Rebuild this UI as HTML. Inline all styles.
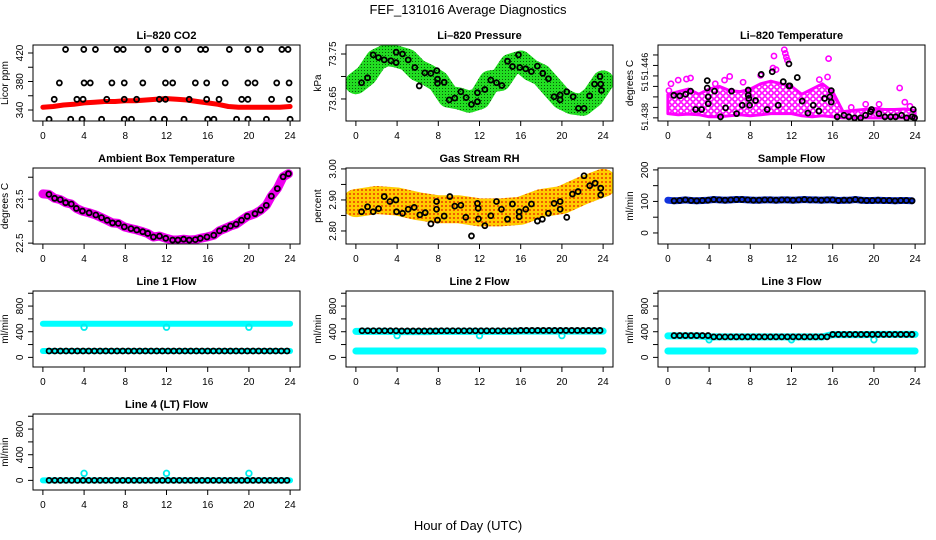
<!DOCTYPE html>
<html><head><meta charset="utf-8"><style>
html,body{margin:0;padding:0;background:#fff;}
svg{display:block;font-family:"Liberation Sans",sans-serif;}
</style></head><body>
<svg id="chart" width="936" height="540" viewBox="0 0 936 540" xmlns="http://www.w3.org/2000/svg">
<defs>
<pattern id="greenpat" width="3" height="3" patternUnits="userSpaceOnUse"><rect width="3" height="3" fill="#22dd22"/><rect x="1" y="1" width="1" height="1" fill="#0a5a0a"/></pattern>
<pattern id="rhpat" width="4" height="4" patternUnits="userSpaceOnUse"><rect width="4" height="4" fill="#ffcc00"/><rect x="1" y="1" width="2" height="2" fill="#f06000"/></pattern>
<pattern id="magpat" width="6" height="6" patternUnits="userSpaceOnUse"><rect width="6" height="6" fill="#fff"/><circle cx="3" cy="3" r="2.2" fill="none" stroke="#ff00ff" stroke-width="1.6"/></pattern>
</defs>
<text x="468" y="14" text-anchor="middle" font-size="13">FEF_131016  Average Diagnostics</text>
<text x="468" y="530" text-anchor="middle" font-size="13">Hour of Day (UTC)</text>
</svg>
<script>
// ---------- data ----------
const co2Band = [344,345,347,348,350,351,352,352,353,353,354,355,356,355,354,352,350,348,345,344,344,344,344,344,345];
const co2TopH = [2.2,3.97,5.1,7.2,7.8,10.2,11.9,13.1,15.3,15.8,18.1,19.9,21.1,23.2,23.8];
const co2MidH = [1.6,4,4.6,6.7,7.9,9.7,11.9,12.6,14.8,15.9,17.7,19.9,20.6,22.7,23.9];
const co2LowH = [1.1,3.3,3.9,6.2,7.9,9.1,11.3,11.9,14.2,15.9,17.1,19.3,19.9,22.2,23.9];
const co2BotH = [0.6,2.7,3.8,5.7,7.9,8.6,10.7,11.8,13.7,16,16.6,18.8,19.9,21.7,24];
const co2Levels = [425,378,355,327];

const presBand = [73.685,73.703,73.737,73.748,73.744,73.737,73.714,73.703,73.689,73.655,73.651,73.644,73.651,73.689,73.692,73.726,73.733,73.714,73.703,73.677,73.651,73.640,73.637,73.655,73.689];
const presH = [0.55,1.13,1.68,2.2,2.75,3.4,3.91,3.91,4.53,5.08,5.72,6.15,6.69,7.28,7.86,7.92,7.92,8.57,9.06,9.6,10.19,10.7,11.22,11.8,11.8,12.52,13.1,13.65,14.17,14.72,15.2,15.78,15.91,16.49,17.04,17.62,18.14,18.69,19.24,19.83,19.83,20.47,21.09,21.6,22.15,22.69,23.17,23.7,23.77,23.84];
const presV = [73.686,73.697,73.748,73.742,73.737,73.735,73.754,73.731,73.75,73.737,73.72,73.679,73.708,73.707,73.713,73.694,73.685,73.687,73.648,73.652,73.666,73.653,73.638,73.664,73.644,73.671,73.692,73.686,73.68,73.734,73.722,73.748,73.72,73.717,73.711,73.723,73.707,73.695,73.655,73.659,73.648,73.666,73.655,73.629,73.629,73.657,73.683,73.7,73.683,73.669];

const tempLow = [51.4368,51.4366,51.4367,51.4366,51.4362,51.4362,51.4364,51.4366,51.4364,51.4366,51.4368,51.4368,51.4368,51.4364,51.4362,51.4364,51.4362,51.4360,51.4360,51.4360,51.4360,51.4360,51.4360,51.4360,51.4360];
const tempHigh = [51.4405,51.4410,51.4415,51.4405,51.4415,51.4420,51.4412,51.4410,51.4415,51.4425,51.4430,51.4425,51.4420,51.4405,51.4415,51.4425,51.4410,51.4372,51.4374,51.4376,51.4378,51.4376,51.4376,51.4377,51.4374];
const tempOutH = [0.1,0.3,1.0,1.8,2.2,4.6,5.5,6.0,7.3,9.0,10.2,10.3,10.5,11.3,11.4,11.5,11.6,14.7,15.6,15.5,17.8,19.2,20.5,22.5,23.0,23.5];
const tempOutV = [51.4412,51.4425,51.4432,51.4434,51.4436,51.4425,51.4432,51.4439,51.4428,51.4441,51.4455,51.4478,51.4452,51.4490,51.4483,51.4476,51.4470,51.4433,51.4473,51.4438,51.4380,51.4386,51.4386,51.4417,51.4390,51.4382];
const tempH = [0.58,1.17,1.72,2.2,2.69,3.27,3.82,3.82,3.92,3.92,4.53,5.11,5.6,6.18,6.67,7.22,7.8,7.8,7.86,7.93,8.51,9.06,9.64,10.13,10.71,11.2,11.75,11.75,11.84,12.56,13.04,13.59,14.11,14.66,15.21,15.73,15.86,15.86,16.44,17.09,17.57,18.12,18.71,19.19,19.68,19.77,20.49,21.07,21.62,22.1,22.69,23.17,23.72,23.82,23.95];
const tempV = [51.4403,51.4402,51.4405,51.4411,51.4376,51.4376,51.4431,51.4417,51.4400,51.4387,51.4411,51.4362,51.4379,51.4411,51.4368,51.4384,51.4413,51.4403,51.4397,51.4384,51.4393,51.4443,51.4376,51.4448,51.4384,51.4429,51.4463,51.4421,51.4421,51.4437,51.4392,51.4369,51.4384,51.4373,51.4397,51.4400,51.4412,51.4390,51.4362,51.4365,51.4362,51.4360,51.4360,51.4365,51.4372,51.4376,51.4368,51.4362,51.4362,51.4362,51.4365,51.4360,51.4362,51.4376,51.4360];

const ambH = [0.59,1.14,1.69,2.21,2.76,3.25,3.84,4.49,5.14,5.69,6.24,6.76,7.32,7.9,8.55,9.11,9.69,10.18,10.73,11.32,11.93,12.59,13.11,13.66,14.21,14.8,15.28,15.93,16.59,17.14,17.66,18.21,18.76,19.28,19.84,20.59,21.14,21.69,22.18,22.76,23.32,23.84];
const ambV = [23.61,23.52,23.49,23.42,23.39,23.29,23.23,23.19,23.14,23.08,23.02,22.96,22.95,22.87,22.83,22.80,22.76,22.72,22.64,22.66,22.61,22.57,22.57,22.59,22.57,22.58,22.61,22.64,22.68,22.78,22.83,22.89,22.93,23.02,23.11,23.17,23.25,23.36,23.57,23.74,24.01,24.08];

const rhBandH = [0,2,4,6,8,10,12,14,16,18,20,22,24];
const rhBand = [2.89,2.90,2.895,2.88,2.87,2.87,2.86,2.86,2.865,2.89,2.90,2.93,2.955];
const rhH = [0.55,1.13,1.68,2.2,2.75,3.3,3.88,3.95,4.53,5.08,5.66,6.21,6.73,7.28,7.83,7.83,7.92,8.57,9.12,9.6,10.19,10.67,11.22,11.8,11.87,11.9,12.52,13.1,13.65,14.13,14.72,15.2,15.85,15.85,16.49,17.04,17.62,18.1,18.69,19.24,19.83,19.83,20.47,21.02,21.57,22.15,22.7,23.22,23.77,23.77];
const rhV = [2.862,2.878,2.862,2.872,2.911,2.895,2.9,2.862,2.857,2.87,2.876,2.852,2.859,2.823,2.895,2.87,2.835,2.848,2.911,2.88,2.883,2.844,2.784,2.889,2.873,2.839,2.817,2.849,2.895,2.87,2.838,2.887,2.862,2.846,2.87,2.887,2.832,2.838,2.857,2.889,2.895,2.87,2.844,2.919,2.927,2.978,2.946,2.954,2.938,2.916];

const flowH = [0.6,1.15,1.7,2.25,2.8,3.35,3.9,4.45,5.0,5.55,6.1,6.65,7.2,7.75,8.3,8.85,9.4,9.95,10.5,11.05,11.6,12.15,12.7,13.25,13.8,14.35,14.9,15.45,16.0,16.55,17.1,17.65,18.2,18.75,19.3,19.85,20.4,20.95,21.5,22.05,22.6,23.15,23.7];
const sampleV = [102,103,105,103,102,103,104,106,105,104,105,106,106,105,104,104,105,105,104,105,105,104,105,106,105,105,104,105,105,103,104,104,106,104,103,103,104,103,103,102,103,103,102];
const line1Black = [100,100,100,100,100,100,100,100,100,100,100,100,100,100,100,100,100,100,100,100,100,100,100,100,100,100,100,100,100,100,100,100,100,100,100,100,100,100,100,100,100,100,100];
const line1Cyan = [525,525,525,525,525,525,525,525,525,525,525,525,525,525,525,525,525,525,525,525,525,525,525,525,525];
const line2Black = [415,415,415,415,415,415,415,412,412,412,412,412,412,412,415,415,415,415,415,415,415,415,415,415,415,415,415,415,420,420,420,420,420,420,420,420,420,420,420,420,420,420,420];
const line2Cyan = [405,405,405,405,402,402,402,402,405,405,405,405,405,405,405,405,410,410,410,410,410,410,410,410,410];
const line3Black = [340,340,340,340,340,340,340,320,320,320,320,320,320,320,320,320,320,320,320,320,320,320,320,320,320,320,320,320,358,358,358,358,358,358,358,358,358,358,358,358,358,358,358];
const line3Cyan = [335,335,335,335,320,320,320,320,320,320,320,320,320,320,320,320,355,355,355,355,358,358,358,358,358];
const line4Black = [0,0,0,0,0,0,0,0,0,0,0,0,0,0,0,0,0,0,0,0,0,0,0,0,0,0,0,0,0,0,0,0,0,0,0,0,0,0,0,0,0,0,0];
const lowCyan = [100,100,100,100,100,100,100,100,100,100,100,100,100,100,100,100,100,100,100,100,100,100,100,100,100];
const zeroCyan = [0,0,0,0,0,0,0,0,0,0,0,0,0,0,0,0,0,0,0,0,0,0,0,0,0];
const dipH = [4,12,20];
const line1Dip = [470,470,470];
const line2Dip = [340,340,340];
const line3Dip = [275,275,275];
const line4Dip = [110,110,110];
const hourly = [0,1,2,3,4,5,6,7,8,9,10,11,12,13,14,15,16,17,18,19,20,21,22,23,24];
const xTicks = [0,4,8,12,16,20,24];

// ---------- helpers ----------
const NS = "http://www.w3.org/2000/svg";
const svg = document.getElementById('chart');
function mk(tag, attrs, parent){const e=document.createElementNS(NS,tag);for(const k in attrs)e.setAttribute(k,attrs[k]);(parent||svg).appendChild(e);return e;}

function panel(name,title,ylab,left,top,yr,yTicks,yLabels,lblSize){
  const W=267,H=76;
  const g=mk('g',{});
  
  
  const sx=h=>left+(h+0.96)/25.92*W;
  const sy=v=>top+H-(v-yr[0])/(yr[1]-yr[0])*H;
  const t=mk('text',{x:left+W/2,y:top-6,'text-anchor':'middle','font-size':'11','font-weight':'bold'},g);
  t.textContent=title;
  
  
  const xa=mk('g',{},g);
  
  
  mk('line',{x1:sx(0),x2:sx(24),y1:top+H,y2:top+H,stroke:'#000'},xa);
  xTicks.forEach(v=>{
    mk('line',{x1:sx(v),x2:sx(v),y1:top+H,y2:top+H+5,stroke:'#000'},xa);
    const l=mk('text',{x:sx(v),y:top+H+18,'text-anchor':'middle','font-size':'10'},xa);l.textContent=v;
  });
  const ya=mk('g',{},g);
  
  
  yTicks.forEach(v=>{mk('line',{x1:left-5,x2:left,y1:sy(v),y2:sy(v),stroke:'#000'},ya);});
  yLabels.forEach(o=>{const yy=sy(o[0]);const l=mk('text',{x:left-10,y:yy,'text-anchor':'middle','font-size':lblSize||'10',transform:`rotate(-90 ${left-10} ${yy})`},ya);l.textContent=o[1];});
  const yl=mk('text',{x:left-25,y:top+H/2,'text-anchor':'middle','font-size':'10',transform:`rotate(-90 ${left-25} ${top+H/2})`},g);
  yl.textContent=ylab;
  
  
  const plot=mk('g',{},g);
  
  
  const clip='clip-'+name;
  const cp=mk('clipPath',{id:clip},g);mk('rect',{x:left,y:top,width:W,height:H},cp);
  plot.setAttribute('clip-path','url(#'+clip+')');
  const box=mk('rect',{x:left,y:top,width:W,height:H,fill:'none',stroke:'#000'},g);
  
  
  return {sx,sy,plot,g};
}
function band(p,hs,vs,color,w,name){
  const pts=hs.map((h,i)=>p.sx(h).toFixed(1)+','+p.sy(vs[i]).toFixed(1)).join(' ');
  const pl=mk('polyline',{points:pts,fill:'none',stroke:color,'stroke-width':w,'stroke-linecap':'round','stroke-linejoin':'round'},p.plot);
  
  
}
function pts(p,hs,vs,color,r,sw,name){
  hs.forEach((h,i)=>{
    const c=mk('circle',{cx:p.sx(h),cy:p.sy(vs[i]),r:r,fill:'none',stroke:color,'stroke-width':sw},p.plot);
    
    
  });
}
const L=[33,346,658], T=[45,168,291,414];
const flowTicks=[0,200,400,600,800,1000], flowLabels=[[0,'0'],[400,'400'],[800,'800']];

// CO2
let p=panel('co2','Li\u2013820 CO2','Licor ppm',L[0],T[0],[324.6,431.2],[340,360,380,400,420],[[340,'340'],[380,'380'],[420,'420']]);
band(p,hourly,co2Band,'#ff0000',5,'co2-band');
[co2TopH,co2MidH,co2LowH,co2BotH].forEach((hs,k)=>pts(p,hs,hs.map(()=>co2Levels[k]),'#000',2.5,1.8,'co2-point'));

// Pressure
p=panel('pressure','Li\u2013820 Pressure','kPa',L[1],T[0],[73.601,73.770],[73.65,73.70,73.75],[[73.65,'73.65'],[73.75,'73.75']]);
band(p,hourly,presBand,'url(#greenpat)',22,'pressure-band');
pts(p,presH,presV,'#000',2.5,1.8,'pressure-point');

// Li-820 temperature
p=panel('licor-temp','Li\u2013820 Temperature','degrees C',L[2],T[0],[51.4354,51.4499],[51.436,51.438,51.440,51.442,51.444,51.446,51.448],[[51.4362,'51.438'],[51.4420,'51'],[51.4458,'51.446']],'9');
{const top=hourly.map((h,i)=>p.sx(h)+','+p.sy(tempHigh[i])).join(' ');
 const bot=hourly.slice().reverse().map((h,i)=>p.sx(h)+','+p.sy(tempLow[24-i])).join(' ');
 const pg=mk('polygon',{points:top+' '+bot,fill:'url(#magpat)',stroke:'#ff00ff','stroke-width':3,'stroke-linejoin':'round'},p.plot);
 
 }
pts(p,tempOutH,tempOutV,'#ff00ff',2.6,1.6,'licor-temp-magenta-point');
pts(p,tempH,tempV,'#000',2.5,1.8,'licor-temp-point');

// Ambient
p=panel('ambient','Ambient Box Temperature','degrees C',L[0],T[1],[22.48,24.21],[22.5,23.0,23.5,24.0],[[22.5,'22.5'],[23.5,'23.5']]);
band(p,[0].concat(ambH),[23.62].concat(ambV),'#ee00ee',9,'ambient-band');
pts(p,ambH,ambV,'#000',2.5,1.8,'ambient-point');

// RH
p=panel('rh','Gas Stream RH','percent',L[1],T[1],[2.758,3.003],[2.80,2.85,2.90,2.95,3.00],[[2.80,'2.80'],[2.90,'2.90'],[3.00,'3.00']]);
band(p,rhBandH,rhBand,'url(#rhpat)',28,'rh-band');
pts(p,rhH,rhV,'#000',2.5,1.8,'rh-point');

// Sample flow
p=panel('sample-flow','Sample Flow','ml/min',L[2],T[1],[-35,206],[0,50,100,150,200],[[0,'0'],[100,'100'],[200,'200']]);
band(p,[0].concat(flowH),[104].concat(sampleV),'#1133dd',7,'sample-flow-band');
pts(p,flowH,sampleV,'#000',2.5,1.8,'sample-flow-point');

// Line 1
p=panel('line1-flow','Line 1 Flow','ml/min',L[0],T[2],[-150,1035],flowTicks,flowLabels);
band(p,hourly,line1Cyan,'#00ffff',6,'line1-cyan-band');
band(p,hourly,lowCyan,'#00ffff',6,'line1-cyan-low-band');
pts(p,dipH,line1Dip,'#00eeee',2.8,1.8,'line1-cyan-dip');
pts(p,flowH,line1Black,'#000',2.5,1.8,'line1-point');

// Line 2
p=panel('line2-flow','Line 2 Flow','ml/min',L[1],T[2],[-150,1035],flowTicks,flowLabels);
band(p,hourly,lowCyan,'#00ffff',7,'line2-cyan-low-band');
band(p,hourly,line2Cyan,'#00ffff',7,'line2-cyan-band');
pts(p,dipH,line2Dip,'#00eeee',2.8,1.8,'line2-cyan-dip');
pts(p,flowH,line2Black,'#000',2.5,1.8,'line2-point');

// Line 3
p=panel('line3-flow','Line 3 Flow','ml/min',L[2],T[2],[-150,1035],flowTicks,flowLabels);
band(p,hourly,lowCyan,'#00ffff',7,'line3-cyan-low-band');
band(p,hourly,line3Cyan,'#00ffff',7,'line3-cyan-band');
pts(p,dipH,line3Dip,'#00eeee',2.8,1.8,'line3-cyan-dip');
pts(p,flowH,line3Black,'#000',2.5,1.8,'line3-point');

// Line 4
p=panel('line4-flow','Line 4 (LT) Flow','ml/min',L[0],T[3],[-150,1035],flowTicks,flowLabels);
band(p,hourly,zeroCyan,'#00ffff',6,'line4-cyan-band');
pts(p,dipH,line4Dip,'#00eeee',2.8,1.8,'line4-cyan-point');
pts(p,flowH,line4Black,'#000',2.5,1.8,'line4-point');
</script>
</body></html>
